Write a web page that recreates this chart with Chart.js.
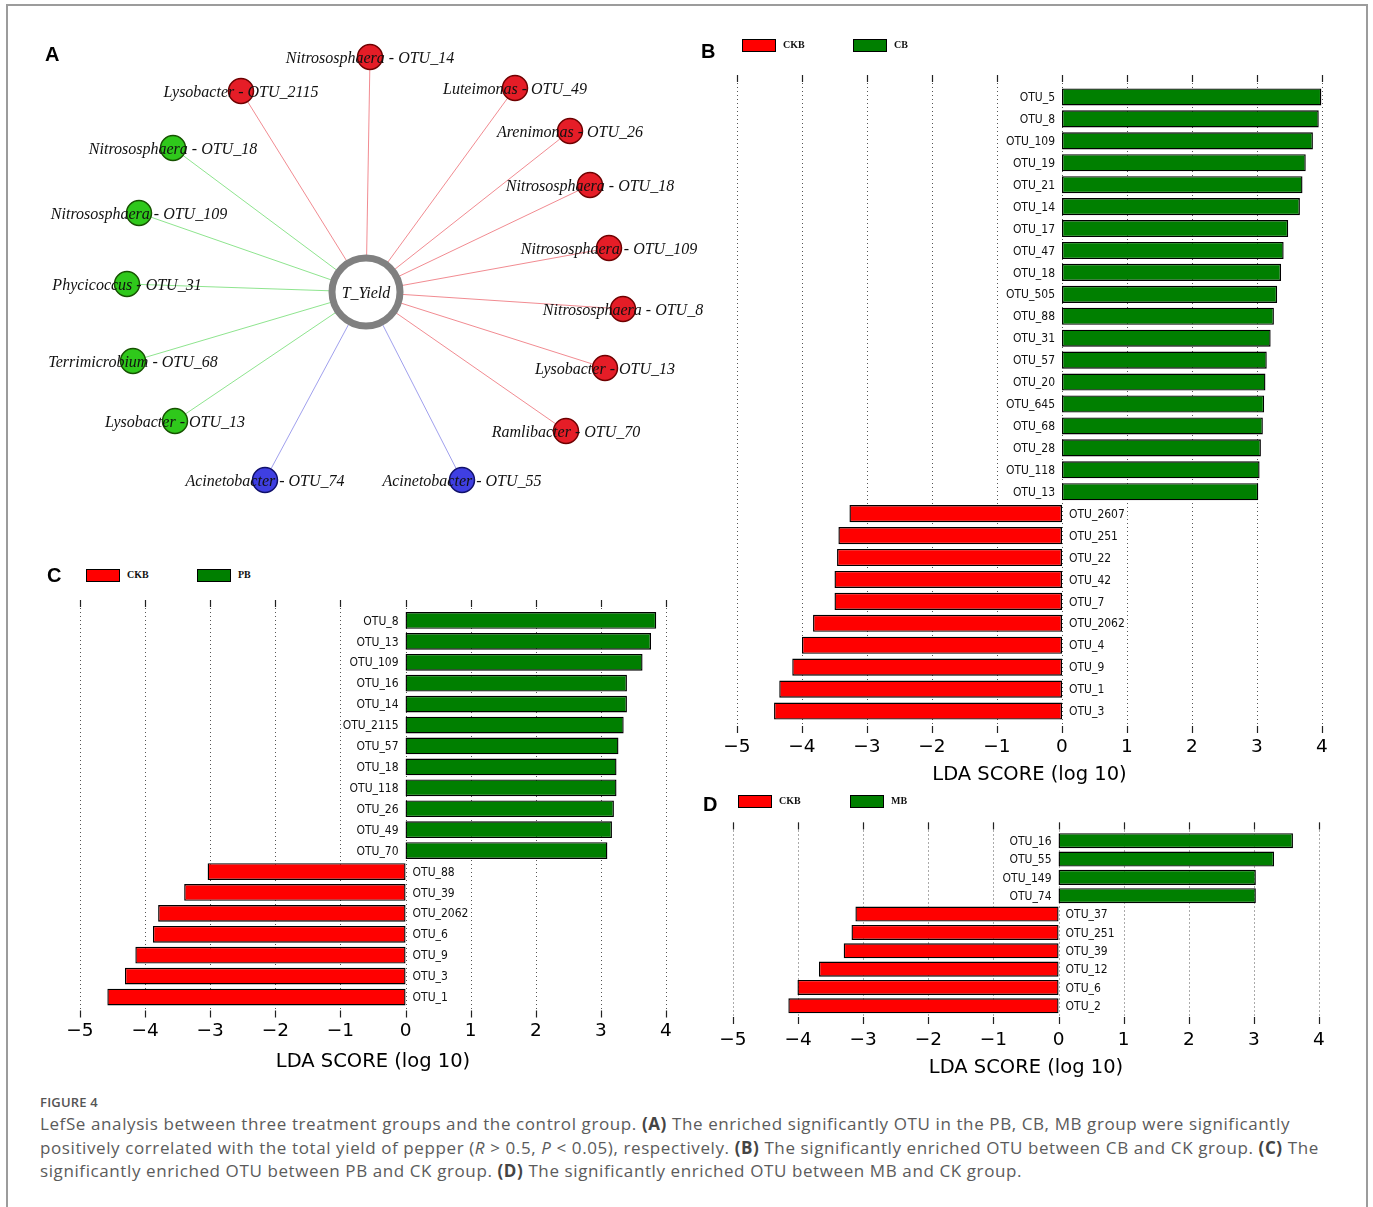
<!DOCTYPE html>
<html>
<head>
<meta charset="utf-8">
<title>Figure 4 – LefSe analysis</title>
<script src="https://cdn.jsdelivr.net/npm/chart.js@4.4.1/dist/chart.umd.min.js"></script>
<style>
  html, body { margin: 0; padding: 0; background: #fff; }
  body { width: 1373px; height: 1207px; position: relative; overflow: hidden; }
  #frame { position: absolute; left: 6px; top: 4px; width: 1362px; height: 1230px;
           border: 2px solid #9c9c9c; border-bottom: none; box-sizing: border-box; }
  canvas { position: absolute; }
  .letter { position: absolute; font: bold 20px "Liberation Sans", Arial, sans-serif; color: #000; line-height: 20px; }
  .lg-box { position: absolute; width: 32px; height: 11px; border: 1.5px solid #000; }
  .lg-txt { position: absolute; font: bold 10px "Liberation Serif", "Times New Roman", serif; color: #111; line-height: 12px; }
  #caption { position: absolute; left: 40px; top: 1092px; font-family: "Open Sans", "Noto Sans", sans-serif; color: #5b5b5b; }
  #caption .fig { font-size: 13px; font-weight: 600; letter-spacing: 0.2px; line-height: 20px; color: #555; }
  #caption .line { font-size: 17px; letter-spacing: 0.6px; line-height: 23.5px; white-space: nowrap; }
  #caption b { color: #444; }
</style>
</head>
<body>
<div id="frame"></div>

<canvas id="netA" width="680" height="480" style="left:30px;top:30px"></canvas>
<canvas id="ldaB" width="660" height="740" style="left:700px;top:60px"></canvas>
<canvas id="ldaC" width="650" height="500" style="left:40px;top:585px"></canvas>
<canvas id="ldaD" width="660" height="282" style="left:700px;top:810px"></canvas>

<div class="letter" style="left:45px;top:44px">A</div>
<div class="letter" style="left:701px;top:41px">B</div>
<div class="letter" style="left:47px;top:565px">C</div>
<div class="letter" style="left:703px;top:794px">D</div>

<div id="legends"></div>

<div id="caption">
  <div class="fig">FIGURE 4</div>
  <div class="line">LefSe analysis between three treatment groups and the control group. <b>(A)</b> The enriched significantly OTU in the PB, CB, MB group were significantly</div>
  <div class="line">positively correlated with the total yield of pepper (<i>R</i> &gt; 0.5, <i>P</i> &lt; 0.05), respectively. <b>(B)</b> The significantly enriched OTU between CB and CK group. <b>(C)</b> The</div>
  <div class="line">significantly enriched OTU between PB and CK group. <b>(D)</b> The significantly enriched OTU between MB and CK group.</div>
</div>

<script>
// ---------- Panel A: OTUs correlated with total yield (network around T_Yield) ----------
const netGenus = ['Nitrososphaera', 'Lysobacter', 'Luteimonas', 'Arenimonas', 'Nitrososphaera',
                  'Nitrososphaera', 'Nitrososphaera', 'Lysobacter', 'Ramlibacter',
                  'Nitrososphaera', 'Nitrososphaera', 'Phycicoccus', 'Terrimicrobium', 'Lysobacter',
                  'Acinetobacter', 'Acinetobacter'];
const netOtu   = ['OTU_14', 'OTU_2115', 'OTU_49', 'OTU_26', 'OTU_18',
                  'OTU_109', 'OTU_8', 'OTU_13', 'OTU_70',
                  'OTU_18', 'OTU_109', 'OTU_31', 'OTU_68', 'OTU_13',
                  'OTU_74', 'OTU_55'];
const netGroup = ['PB', 'PB', 'PB', 'PB', 'PB', 'PB', 'PB', 'PB', 'PB',
                  'CB', 'CB', 'CB', 'CB', 'CB',
                  'MB', 'MB'];
// layout coordinates of each OTU node relative to the T_Yield hub (hub at 0,0)
const netX = [0.04, -1.25, 1.49, 2.04, 2.24, 2.43, 2.57, 2.39, 2.00,
              -1.93, -2.27, -2.39, -2.33, -1.91,
              -1.01, 0.96];
const netY = [2.35, 2.01, 2.04, 1.61, 1.07, 0.44, -0.17, -0.76, -1.39,
              1.44, 0.79, 0.08, -0.69, -1.29,
              -1.88, -1.88];
const hubName = 'T_Yield';

// ---------- Panel B: CKB vs CB ----------
const bGroups = ['CKB', 'CB'];
const bLabels = ['OTU_5', 'OTU_8', 'OTU_109', 'OTU_19', 'OTU_21', 'OTU_14', 'OTU_17', 'OTU_47', 'OTU_18',
                 'OTU_505', 'OTU_88', 'OTU_31', 'OTU_57', 'OTU_20', 'OTU_645', 'OTU_68', 'OTU_28', 'OTU_118',
                 'OTU_13', 'OTU_2607', 'OTU_251', 'OTU_22', 'OTU_42', 'OTU_7', 'OTU_2062', 'OTU_4', 'OTU_9',
                 'OTU_1', 'OTU_3'];
const bScores = [3.99, 3.95, 3.86, 3.75, 3.70, 3.66, 3.48, 3.41, 3.37,
                 3.31, 3.26, 3.21, 3.15, 3.13, 3.11, 3.09, 3.06, 3.04,
                 3.02, -3.27, -3.44, -3.46, -3.50, -3.50, -3.83, -4.00, -4.15,
                 -4.35, -4.43];

// ---------- Panel C: CKB vs PB ----------
const cGroups = ['CKB', 'PB'];
const cLabels = ['OTU_8', 'OTU_13', 'OTU_109', 'OTU_16', 'OTU_14', 'OTU_2115', 'OTU_57', 'OTU_18', 'OTU_118',
                 'OTU_26', 'OTU_49', 'OTU_70', 'OTU_88', 'OTU_39', 'OTU_2062', 'OTU_6', 'OTU_9', 'OTU_3', 'OTU_1'];
const cScores = [3.85, 3.77, 3.64, 3.40, 3.40, 3.35, 3.27, 3.24, 3.24,
                 3.20, 3.17, 3.10, -3.04, -3.40, -3.80, -3.88, -4.15, -4.31, -4.58];

// ---------- Panel D: CKB vs MB ----------
const dGroups = ['CKB', 'MB'];
const dLabels = ['OTU_16', 'OTU_55', 'OTU_149', 'OTU_74', 'OTU_37', 'OTU_251', 'OTU_39', 'OTU_12', 'OTU_6', 'OTU_2'];
const dScores = [3.60, 3.31, 3.03, 3.03, -3.12, -3.18, -3.30, -3.68, -4.01, -4.15];

// shared axis ticks
const ldaTicks = [-5, -4, -3, -2, -1, 0, 1, 2, 3, 4];
const ldaTitle = 'LDA SCORE (log 10)';

// ---------- styling ----------
const CKB_RED = '#ff0000';
const TREAT_GREEN = '#007f00';
const nodeFill   = { PB: '#e51d27', CB: '#2fc81b', MB: '#3f3fe2' };
const nodeBorder = { PB: '#6e0000', CB: '#165200', MB: '#10106a' };
const edgeColor  = { PB: 'rgba(238,110,118,0.8)', CB: 'rgba(130,225,130,0.9)', MB: 'rgba(150,150,235,0.9)' };

// ================= network (panel A) =================
const netLabels = {
  id: 'netLabels',
  afterDatasetsDraw(chart) {
    const { ctx, scales: { x, y } } = chart;
    ctx.save();
    ctx.fillStyle = '#111';
    ctx.textAlign = 'center';
    ctx.textBaseline = 'alphabetic';
    ctx.font = 'italic 16px "Liberation Serif", "Times New Roman", serif';
    netGenus.forEach((g, i) => {
      ctx.fillText(g + ' - ' + netOtu[i], x.getPixelForValue(netX[i]), y.getPixelForValue(netY[i]) + 6);
    });
    ctx.fillText(hubName, x.getPixelForValue(0), y.getPixelForValue(0) + 6);
    ctx.restore();
  }
};

const edgeSets = netGenus.map((g, i) => ({
  type: 'line',
  data: [{ x: 0, y: 0 }, { x: netX[i], y: netY[i] }],
  borderColor: edgeColor[netGroup[i]],
  borderWidth: 1,
  pointRadius: 0,
  fill: false,
  order: 2
}));

new Chart(document.getElementById('netA'), {
  type: 'scatter',
  data: {
    datasets: [
      {
        data: netX.map((v, i) => ({ x: v, y: netY[i] })),
        pointRadius: 12.5,
        pointBackgroundColor: netGroup.map(g => nodeFill[g]),
        pointBorderColor: netGroup.map(g => nodeBorder[g]),
        pointBorderWidth: 1.5,
        order: 0
      },
      {
        data: [{ x: 0, y: 0 }],
        pointRadius: 34,
        pointBackgroundColor: '#ffffff',
        pointBorderColor: '#808080',
        pointBorderWidth: 7,
        order: 1
      },
      ...edgeSets
    ]
  },
  options: {
    responsive: false,
    animation: false,
    events: [],
    layout: { padding: 0, autoPadding: false },
    plugins: { legend: { display: false }, tooltip: { enabled: false } },
    scales: {
      x: { type: 'linear', min: -3.36, max: 3.44, display: false },
      y: { type: 'linear', min: -2.18, max: 2.62, display: false }
    }
  },
  plugins: [netLabels]
});

// ================= LDA bar panels (B, C, D) =================
const ldaDecor = {
  id: 'ldaDecor',
  beforeDatasetsDraw(chart) {
    const { ctx, chartArea: a, scales: { x } } = chart;
    const ext = chart.options.plugins.ldaDecor.ext;
    ctx.save();
    x.ticks.forEach(t => {
      const px = Math.round(x.getPixelForValue(t.value)) + 0.5;
      ctx.strokeStyle = '#555';
      ctx.lineWidth = 1;
      ctx.setLineDash([1, 3]);
      ctx.beginPath();
      ctx.moveTo(px, a.top - ext);
      ctx.lineTo(px, a.bottom + ext);
      ctx.stroke();
      ctx.setLineDash([]);
      ctx.strokeStyle = '#222';
      ctx.lineWidth = 1.2;
      ctx.beginPath();
      ctx.moveTo(px, a.top - ext);
      ctx.lineTo(px, a.top - ext + 7);
      ctx.moveTo(px, a.bottom + ext - 7);
      ctx.lineTo(px, a.bottom + ext);
      ctx.stroke();
    });
    ctx.restore();
  },
  afterDatasetsDraw(chart) {
    const { ctx, scales: { x, y } } = chart;
    const vals = chart.data.datasets[0].data;
    const x0 = x.getPixelForValue(0);
    ctx.save();
    ctx.fillStyle = '#111';
    ctx.textBaseline = 'middle';
    ctx.font = '12px "DejaVu Sans Condensed", "DejaVu Sans", sans-serif';
    chart.data.labels.forEach((lab, i) => {
      const py = y.getPixelForValue(i) + 1;
      if (vals[i] >= 0) { ctx.textAlign = 'right'; ctx.fillText(lab, x0 - 7, py); }
      else { ctx.textAlign = 'left'; ctx.fillText(lab, x0 + 7, py); }
    });
    ctx.restore();
  }
};

function ldaChart(id, labels, scores, cfg) {
  return new Chart(document.getElementById(id), {
    type: 'bar',
    data: {
      labels: labels,
      datasets: [{
        data: scores,
        backgroundColor: scores.map(v => v < 0 ? CKB_RED : TREAT_GREEN),
        borderColor: '#000',
        borderWidth: 1.4,
        borderSkipped: false,
        barPercentage: cfg.bar,
        categoryPercentage: 1
      }]
    },
    options: {
      indexAxis: 'y',
      responsive: false,
      animation: false,
      events: [],
      layout: { padding: { left: cfg.left, right: cfg.right, top: cfg.top, bottom: 0 } },
      plugins: { legend: { display: false }, tooltip: { enabled: false }, ldaDecor: { ext: cfg.ext } },
      scales: {
        x: {
          type: 'linear',
          min: ldaTicks[0],
          max: ldaTicks[ldaTicks.length - 1],
          afterBuildTicks: s => { s.ticks = ldaTicks.map(v => ({ value: v })); },
          afterFit: s => { s.height = cfg.axisH; },
          grid: { display: false, drawTicks: false },
          border: { display: false },
          ticks: {
            padding: cfg.tickPad,
            color: '#000',
            font: { family: 'DejaVu Sans', size: 18.5 },
            callback: v => v < 0 ? '\u2212' + Math.abs(v) : String(v)
          },
          title: {
            display: true,
            text: ldaTitle,
            color: '#000',
            font: { family: 'DejaVu Sans', size: 19.5 },
            padding: { top: 0, bottom: cfg.titlePad }
          }
        },
        y: { display: false }
      }
    },
    plugins: [ldaDecor]
  });
}

ldaChart('ldaB', bLabels, bScores, { left: 37, right: 38, top: 26, axisH: 78, tickPad: 14, titlePad: 13, bar: 0.78, ext: 11 });
ldaChart('ldaC', cLabels, cScores, { left: 40, right: 24, top: 25, axisH: 77.5, tickPad: 13, titlePad: 11, bar: 0.8, ext: 10 });
ldaChart('ldaD', dLabels, dScores, { left: 33, right: 41, top: 21.5, axisH: 77, tickPad: 14, titlePad: 12, bar: 0.82, ext: 9 });

// ---------- legends for the LDA panels ----------
function legend(groups, left, top, gap) {
  const host = document.getElementById('legends');
  const colors = [CKB_RED, TREAT_GREEN];
  groups.forEach((g, i) => {
    const bx = left + i * gap;
    const box = document.createElement('div');
    box.className = 'lg-box';
    box.style.left = bx + 'px';
    box.style.top = top + 'px';
    box.style.background = colors[i];
    host.appendChild(box);
    const t = document.createElement('div');
    t.className = 'lg-txt';
    t.style.left = (bx + 41) + 'px';
    t.style.top = (top) + 'px';
    t.textContent = g;
    host.appendChild(t);
  });
}
legend(bGroups, 742, 39, 111);
legend(cGroups, 86, 569, 111);
legend(dGroups, 738, 795, 112);
</script>
</body>
</html>
